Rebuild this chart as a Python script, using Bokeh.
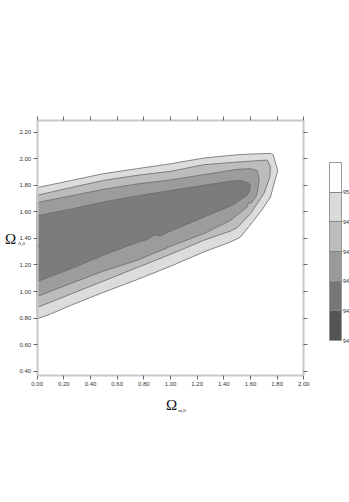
from bokeh.plotting import figure
from bokeh.models import (Range1d, LinearAxis, FixedTicker, CustomJSTickFormatter,
                          ColumnDataSource, Label, ColorBar, LinearColorMapper)
from bokeh.embed import file_html
from bokeh.resources import INLINE

# ---- data -----------------------------------------------------------------
x_ticks = [0.0, 0.2, 0.4, 0.6, 0.8, 1.0, 1.2, 1.4, 1.6, 1.8, 2.0]
y_ticks = [0.4, 0.6, 0.8, 1.0, 1.2, 1.4, 1.6, 1.8, 2.0, 2.2]
x_lim = (0.0, 2.0)
y_lim = (0.364, 2.288)

# contour level 1 (outermost)
lvl1_x = [0.0, 0.25, 0.5, 0.75, 1.0, 1.25, 1.5, 1.6, 1.75, 1.77, 1.79, 1.805,
          1.79, 1.75, 1.69, 1.625, 1.525, 1.45, 1.25, 1.0, 0.75, 0.5, 0.25, 0.1, 0.0]
lvl1_y = [1.783, 1.835, 1.888, 1.925, 1.962, 2.005, 2.03, 2.035, 2.04, 2.03, 1.96, 1.91,
          1.86, 1.711, 1.62, 1.536, 1.41, 1.373, 1.298, 1.19, 1.09, 0.995, 0.895, 0.83, 0.795]
# level 2
lvl2_x = [0.0, 0.25, 0.5, 0.75, 1.0, 1.25, 1.5, 1.65, 1.725, 1.75, 1.745,
          1.70, 1.6, 1.5, 1.45, 1.25, 1.0, 0.75, 0.5, 0.25, 0.0]
lvl2_y = [1.725, 1.782, 1.837, 1.875, 1.905, 1.955, 1.975, 1.985, 1.99, 1.94, 1.86,
          1.737, 1.586, 1.48, 1.455, 1.386, 1.28, 1.18, 1.08, 0.98, 0.88]
# level 3
lvl3_x = [0.0, 0.25, 0.5, 0.75, 1.0, 1.25, 1.5, 1.6, 1.65, 1.665, 1.66, 1.65, 1.64,
          1.6, 1.587, 1.575, 1.45, 1.25, 1.0, 0.75, 0.5, 0.25, 0.0]
lvl3_y = [1.67, 1.72, 1.77, 1.81, 1.84, 1.88, 1.92, 1.925, 1.91, 1.85, 1.80, 1.74, 1.711,
          1.66, 1.674, 1.636, 1.536, 1.436, 1.34, 1.235, 1.155, 1.06, 0.9625]
# level 4
lvl4_x = [0.0, 0.25, 0.5, 0.75, 1.0, 1.25, 1.45, 1.525, 1.58, 1.60, 1.59, 1.575,
          1.5, 1.475, 1.25, 1.0, 0.93, 0.88, 0.82, 0.75, 0.5, 0.25, 0.0]
lvl4_y = [1.57, 1.62, 1.675, 1.72, 1.76, 1.80, 1.83, 1.836, 1.82, 1.80, 1.75, 1.724,
          1.674, 1.655, 1.56, 1.455, 1.42, 1.425, 1.39, 1.37, 1.275, 1.17, 1.075]
# level 5 (tiny spot at the left edge)
lvl5_x = [0.0, 0.02, 0.0]
lvl5_y = [1.33, 1.345, 1.36]

level_colors = ["#dcdcdc", "#bcbcbc", "#9c9c9c", "#7c7c7c", "#5a5a5a"]
bar_colors = ["#555555", "#767676", "#9a9a9a", "#bdbdbd", "#dadada", "#ffffff"]
bar_labels = ["94", "94", "94", "94", "94", "95"]

# ---- figure: frame spans the whole canvas, axes sit at fixed locations -----
W, H = 349, 502
PX = 133.3   # pixels per x unit
PY = 132.8   # pixels per y unit
X0, Y0 = 36.7, 370.7   # canvas position of (0, 0.4)
x_range = Range1d(-X0 / PX, (W - X0) / PX)
y_range = Range1d(0.4 - (H - Y0) / PY, 0.4 + Y0 / PY)

p = figure(width=W, height=H, output_backend="svg", toolbar_location=None,
           x_range=x_range, y_range=y_range,
           x_axis_location=None, y_axis_location=None, min_border=0)
p.outline_line_color = None
p.grid.visible = False
p.background_fill_color = "white"
p.border_fill_color = "white"

TICKC = "#666666"
AXC = "#c8c8c8"
blank = CustomJSTickFormatter(code="return ''")
fmt = CustomJSTickFormatter(code="return tick.toFixed(2)")

def make_axis(ticks, loc, bounds, side, labels):
    ax = LinearAxis(ticker=FixedTicker(ticks=ticks), fixed_location=loc,
                    bounds=bounds, formatter=fmt if labels else blank)
    ax.axis_line_color = AXC
    ax.axis_line_width = 2
    ax.major_tick_line_color = TICKC
    ax.major_tick_in = 0
    ax.major_tick_out = 4
    ax.minor_tick_line_color = None
    ax.major_label_text_font = "Liberation Sans"
    ax.major_label_text_font_size = "6px"
    ax.major_label_text_color = "#333333"
    ax.major_label_standoff = 2
    p.add_layout(ax, side)

make_axis(x_ticks, y_lim[0], x_lim, "below", True)
make_axis(x_ticks, y_lim[1], x_lim, "above", False)
make_axis(y_ticks, x_lim[0], y_lim, "left", True)
make_axis(y_ticks, x_lim[1], y_lim, "right", False)

levels = [(lvl1_x, lvl1_y), (lvl2_x, lvl2_y), (lvl3_x, lvl3_y),
          (lvl4_x, lvl4_y), (lvl5_x, lvl5_y)]
for (xs, ys), c in zip(levels, level_colors):
    src = ColumnDataSource(dict(x=xs, y=ys))
    p.patch("x", "y", source=src, fill_color=c, line_color="#6a6a6a",
            line_width=0.8, level="underlay")

# axis titles
def lab(x, y, text, size, align="center"):
    p.add_layout(Label(x=x, y=y, text=text, text_font="Liberation Serif",
                       text_font_size=size, text_align=align,
                       text_baseline="middle", text_color="#111111"))

lab(1.0075, 0.142, "Ω", "15px")
lab(1.058, 0.102, "m,0", "5px", "left")
lab(-0.200, 1.392, "Ω", "15px")
lab(-0.146, 1.358, "Λ,0", "5px", "left")

# colour bar (screen geometry)
BAR_X, BAR_TOP, BAR_W, BAR_H = 329, 162, 12, 178
n = len(bar_colors)
mapper = LinearColorMapper(palette=bar_colors, low=0, high=n)
cb = ColorBar(color_mapper=mapper, orientation="vertical",
              location=(BAR_X, H - BAR_TOP - BAR_H), width=BAR_W, height=BAR_H,
              padding=0, ticker=FixedTicker(ticks=list(range(1, n))),
              formatter=blank, major_label_text_font_size="5px",
              label_standoff=0, major_tick_line_color="#858585",
              major_tick_in=BAR_W, major_tick_out=1,
              bar_line_color="#999999", border_line_color=None,
              background_fill_color=None)
p.add_layout(cb)

step = BAR_H / n
for i, t in enumerate(bar_labels):
    sy = BAR_TOP + BAR_H - i * step
    p.add_layout(Label(x=BAR_X + BAR_W + 1.5, y=H - sy, x_units="screen",
                       y_units="screen", text=t, text_font="Liberation Sans",
                       text_font_size="5.5px", text_align="left",
                       text_baseline="middle", text_color="#333333"))

open("out.html", "w").write(file_html(p, INLINE))
